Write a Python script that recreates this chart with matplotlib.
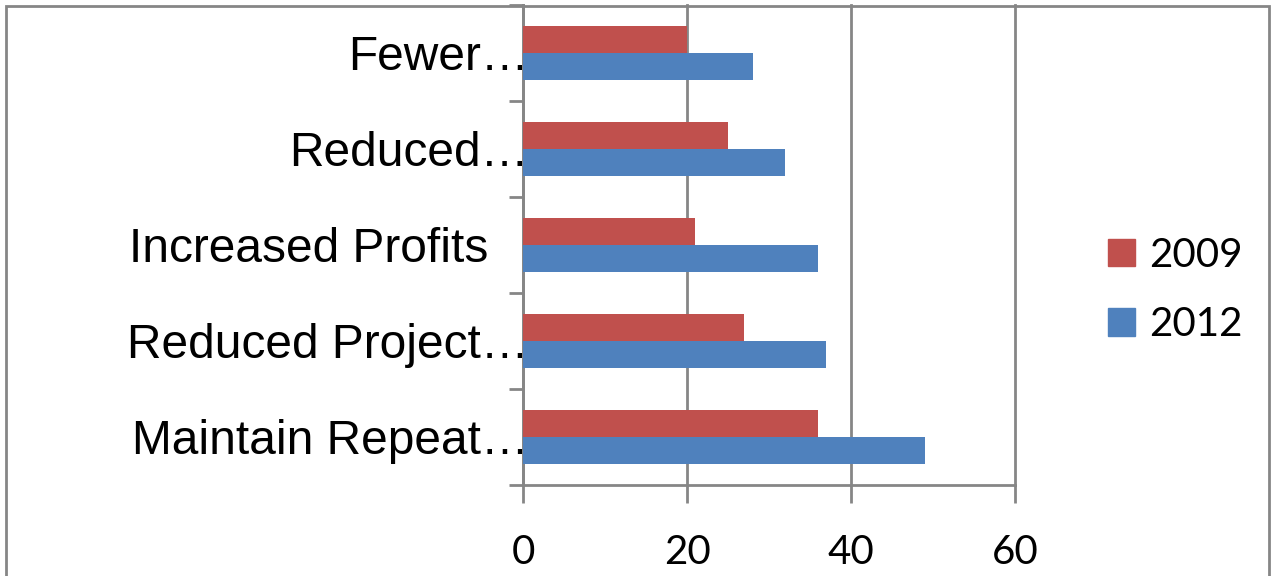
import matplotlib
matplotlib.use("Agg")
import matplotlib.pyplot as plt
import numpy as np
from matplotlib.patches import Rectangle, Patch

# data, listed bottom to top as drawn
categories = ["Maintain Repeat\u2026", "Reduced Project\u2026", "Increased Profits   ",
              "Reduced\u2026", "Fewer\u2026"]
vals_2009 = [36, 27, 21, 25, 20]
vals_2012 = [49, 37, 36, 32, 28]
series_names = ["2009", "2012"]
xticks = [0, 20, 40, 60]

red = "#C0504D"
blue = "#4F81BD"
grid_col = "#868686"

fig = plt.figure(figsize=(12.71, 5.76), dpi=100)
ax = fig.add_axes([523 / 1271, 1 - 485 / 576, (1015 - 523) / 1271, 480 / 576])

y = np.arange(len(categories))
h = 0.286
ax.barh(y + h / 2, vals_2009, height=h, color=red, zorder=3)
ax.barh(y - h / 2, vals_2012, height=h, color=blue, zorder=3)

ax.set_xlim(0, 60)
ax.set_ylim(-0.5, len(categories) - 0.5)
ax.set_xticks(xticks)
ax.set_xticklabels([str(t) for t in xticks], fontfamily="Lato", fontsize=29)
ax.xaxis.grid(True, color=grid_col, linewidth=2, zorder=0)
for gl in ax.get_xgridlines():
    gl.set_clip_on(False)
ax.tick_params(axis="x", length=13, width=2, color=grid_col, pad=22)

ax.set_yticks(y)
ax.set_yticklabels(categories, fontfamily="Liberation Sans", fontsize=34.5)
ax.tick_params(axis="y", length=0, pad=-4)
ax.set_yticks(np.arange(-0.5, len(categories), 1), minor=True)
ax.tick_params(axis="y", which="minor", length=10, width=2, color=grid_col)

for s in ["top", "right"]:
    ax.spines[s].set_visible(False)
for s in ["left", "bottom"]:
    ax.spines[s].set_color(grid_col)
    ax.spines[s].set_linewidth(2)

handles = [Patch(color=red), Patch(color=blue)]
fig.legend(handles, series_names, loc="center left", bbox_to_anchor=(1108 / 1271, 1 - 290 / 576),
           frameon=False, prop={"family": "Lato", "size": 29}, borderpad=0, borderaxespad=0,
           handlelength=0.67, handleheight=0.67, handletextpad=0.35, labelspacing=0.8)

fig.patches.append(Rectangle((6 / 1271, -0.05), 1263 / 1271, 1.05 - 6 / 576,
                             transform=fig.transFigure, fill=False,
                             edgecolor=grid_col, linewidth=2))

fig.savefig("out.png", dpi=100)
